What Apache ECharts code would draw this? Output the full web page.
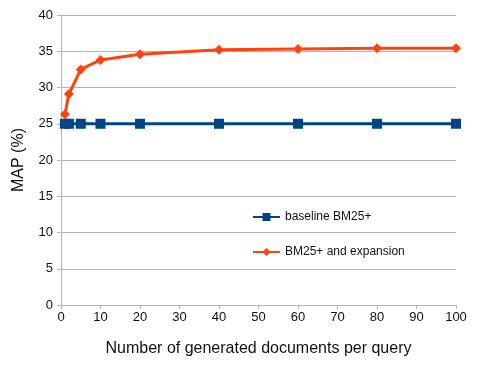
<!DOCTYPE html>
<html>
<head>
<meta charset="utf-8">
<script src="https://cdn.jsdelivr.net/npm/echarts@6/dist/echarts.min.js"></script>
<style>
  html, body { margin: 0; padding: 0; background: #fff; }
  #chart { width: 480px; height: 385px; }
</style>
</head>
<body>
<div id="chart"></div>
<script>
const docCounts = [1, 2, 5, 10, 20, 40, 60, 80, 100]
const baselineMap = [25, 25, 25, 25, 25, 25, 25, 25, 25]
const expansionMap = [26.3, 29.1, 32.5, 33.8, 34.6, 35.2, 35.3, 35.4, 35.4]

const pairs = (xs, ys) => xs.map((x, i) => [x, ys[i]])

const font = 'Liberation Sans, Arial, sans-serif'
const gridColor = '#b3b3b3'

const chart = echarts.init(document.getElementById('chart'))
chart.setOption({
  backgroundColor: '#fff',
  animation: false,
  textStyle: { fontFamily: font },
  grid: { left: 61, right: 24, top: 15, bottom: 80 },
  legend: {
    orient: 'vertical',
    left: 252,
    top: 211,
    padding: 0,
    itemGap: 23,
    itemWidth: 27,
    itemHeight: 10,
    textStyle: { fontSize: 12, color: '#111', fontFamily: font },
    data: ['baseline BM25+', 'BM25+ and expansion']
  },
  xAxis: {
    type: 'value',
    min: 0,
    max: 100,
    interval: 10,
    name: 'Number of generated documents per query',
    nameLocation: 'middle',
    nameGap: 36,
    nameTextStyle: { fontSize: 16, color: '#111', fontFamily: font },
    axisLine: { show: true, lineStyle: { color: gridColor } },
    axisTick: { show: true, length: 4, lineStyle: { color: gridColor } },
    axisLabel: { fontSize: 13, color: '#111', margin: 6 },
    splitLine: { show: false }
  },
  yAxis: {
    type: 'value',
    min: 0,
    max: 40,
    interval: 5,
    name: 'MAP (%)',
    nameLocation: 'middle',
    nameGap: 34,
    nameTextStyle: { fontSize: 16, color: '#111', fontFamily: font },
    axisLine: { show: true, lineStyle: { color: gridColor } },
    axisTick: { show: true, length: 4, lineStyle: { color: gridColor } },
    axisLabel: { fontSize: 13, color: '#111', margin: 8 },
    splitLine: { show: true, lineStyle: { color: gridColor } }
  },
  series: [
    {
      name: 'baseline BM25+',
      type: 'line',
      data: pairs(docCounts, baselineMap),
      symbol: 'rect',
      symbolSize: 10,
      lineStyle: { color: '#004586', width: 3 },
      itemStyle: { color: '#004586' }
    },
    {
      name: 'BM25+ and expansion',
      type: 'line',
      data: pairs(docCounts, expansionMap),
      symbol: 'diamond',
      symbolSize: 10,
      lineStyle: { color: '#ff420e', width: 3 },
      itemStyle: { color: '#ff420e' }
    }
  ]
})
</script>
</body>
</html>
